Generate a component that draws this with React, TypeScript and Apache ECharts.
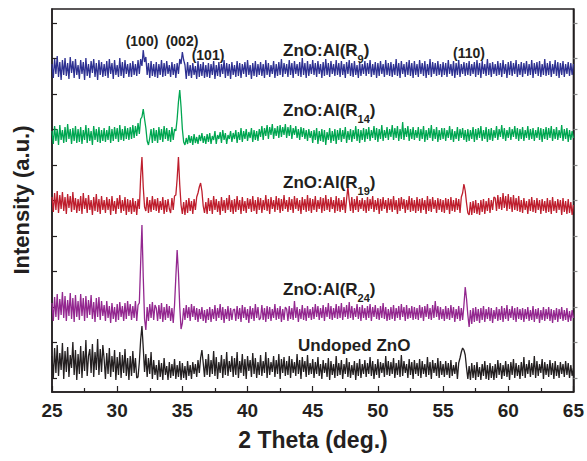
import React, { useEffect, useRef } from "react";
import * as echarts from "echarts";

// 2θ sampling grid (deg), 25.0 .. 65.0 step 0.1
const twoTheta: number[] = Array.from({ length: 401 }, (_, i) => Math.round((25 + i * 0.1) * 10) / 10);

const xTicks = [25, 30, 35, 40, 45, 50, 55, 60, 65];
const seriesNames = ["ZnO:Al(R9)", "ZnO:Al(R14)", "ZnO:Al(R19)", "ZnO:Al(R24)", "Undoped ZnO"];
const stackOffsets = [312, 247, 177, 67, 12];
const yTickValues = [14, 49.5, 85, 120.5, 156, 191.5, 227, 262.5, 298, 333.5, 369];

const intensityR9 = [
  16,2,21,6,24,3,18,0,20,5,22,4,17,1,23,7,19,2,21,5,
  15,1,20,6,18,0,22,4,16,2,19,7,21,3,17,0,20,5,18,3,
  16,4,19,2,21,6,17,1,20,5,15,3,22,4,18,2,20,6,16,3,
  17,3,19,5,16,4,20,6,21,14,30,18,23,5,17,2,19,4,16,3,
  18,2,16,5,20,3,17,4,19,6,15,3,18,5,16,2,17,6,21,16,
  28,20,15,1,18,4,15,2,17,5,14,1,19,3,16,4,18,2,15,3,
  17,2,16,5,19,1,15,4,18,3,16,6,20,2,17,4,16,1,18,5,
  15,3,19,4,17,2,16,6,18,3,20,5,15,1,17,4,19,3,16,5,
  18,4,16,2,20,5,17,3,15,6,19,2,16,4,18,5,21,3,17,6,
  16,3,20,5,17,2,19,6,16,4,18,3,22,5,17,2,19,4,16,6,
  20,5,17,3,19,6,16,2,18,4,21,5,17,3,19,6,16,4,20,5,
  17,3,19,5,16,2,18,6,20,4,17,3,19,5,15,2,18,4,16,6,
  19,4,17,6,20,3,16,5,18,2,17,4,19,6,16,3,20,5,17,4,
  18,3,16,5,21,4,17,2,19,6,16,3,18,5,20,4,17,2,19,5,
  16,3,20,6,17,4,19,2,16,5,21,3,18,6,17,4,19,5,16,3,
  18,5,17,3,20,6,16,4,19,2,17,5,20,3,16,6,18,4,17,5,
  19,4,16,6,18,3,20,5,17,2,19,6,16,4,21,5,17,3,18,6,
  16,4,19,5,17,3,20,6,16,2,18,5,19,4,17,6,20,3,16,5,
  18,3,17,6,19,4,16,5,20,2,17,6,18,4,19,3,16,5,21,4,
  17,5,19,3,16,6,20,4,18,2,17,5,19,3,16,6,18,4,17,5,
  16,
];

const intensityR14 = [
  14,1,19,4,16,0,20,5,15,2,18,3,21,6,16,1,17,4,19,2,
  16,3,18,1,15,5,20,2,17,4,14,0,19,5,16,3,18,2,15,4,
  17,3,15,5,19,2,16,4,18,6,17,3,20,5,16,4,19,6,17,5,
  18,6,20,7,19,9,22,11,26,28,36,26,17,4,0,7,16,2,17,4,
  15,2,18,5,16,3,19,6,17,4,15,3,18,5,16,14,26,43,55,38,
  16,3,0,7,1,10,2,9,0,11,2,8,1,10,4,12,2,9,1,11,
  3,12,1,9,5,14,1,10,6,13,2,15,5,12,1,10,6,14,3,12,
  6,15,2,13,5,17,3,14,6,16,4,13,7,17,3,15,5,14,4,16,
  8,19,5,17,9,20,6,18,10,21,6,17,9,19,7,20,8,18,10,21,
  7,18,9,20,6,17,10,19,7,16,5,18,8,17,6,15,4,16,7,14,
  2,15,5,17,1,14,4,16,3,15,0,13,5,17,2,14,4,16,1,15,
  5,17,3,15,6,18,2,14,5,16,3,15,6,19,4,16,2,15,5,17,
  3,16,6,18,4,15,7,19,5,17,3,16,6,20,4,15,7,18,5,16,
  8,20,5,17,7,19,4,16,6,23,5,17,8,19,4,16,6,18,5,15,
  7,18,4,16,6,19,3,15,5,17,7,20,4,16,6,18,3,15,5,17,
  6,17,4,15,7,19,5,16,3,14,6,18,4,16,7,17,5,15,3,16,
  4,15,6,18,3,16,5,17,7,19,4,15,6,18,3,16,5,17,4,15,
  7,19,5,16,8,20,6,17,4,15,7,18,5,16,8,19,6,17,4,16,
  6,18,4,15,7,19,5,16,6,17,4,15,7,18,5,17,3,16,6,18,
  5,17,7,19,4,16,6,18,5,15,7,20,4,16,6,17,3,15,5,14,
  7,
];

const intensityR19 = [
  18,3,22,5,24,2,20,6,23,4,18,1,21,7,19,3,23,5,17,2,
  16,4,19,1,22,6,17,2,20,5,15,0,18,4,21,3,16,1,19,5,
  15,2,18,5,16,0,19,4,14,1,17,6,20,2,15,4,18,0,16,3,
  15,1,17,3,14,0,16,6,38,58,28,8,4,18,2,15,3,19,5,16,
  4,17,2,14,5,18,1,15,3,16,6,2,17,5,19,20,36,58,30,10,
  1,13,0,15,2,17,4,14,1,16,5,18,22,28,32,24,9,2,13,1,
  17,4,15,1,19,5,16,3,14,0,18,4,15,2,17,5,20,3,15,1,
  16,3,19,5,15,1,18,4,14,2,17,6,16,3,19,4,15,1,18,5,
  17,2,15,5,20,4,16,1,18,6,15,3,19,5,17,2,16,4,20,6,
  15,3,18,5,16,2,19,6,17,4,15,1,18,5,16,3,20,4,17,2,
  16,5,19,3,15,6,18,2,17,4,20,5,16,3,18,6,15,2,19,4,
  17,3,15,5,18,2,16,28,15,4,18,2,16,5,19,3,15,6,17,4,
  15,2,18,4,16,6,19,3,15,5,17,1,16,4,18,6,15,2,17,5,
  16,3,19,5,15,1,17,4,18,6,16,2,15,5,19,3,17,4,15,2,
  18,4,16,2,17,5,15,1,19,4,16,3,18,6,15,2,17,5,16,3,
  15,2,17,5,16,1,18,4,15,3,17,5,16,2,18,22,31,24,12,2,
  0,13,0,14,2,15,1,12,0,15,3,16,1,14,4,17,2,15,5,18,
  17,4,20,6,18,5,22,7,19,4,21,6,18,3,20,5,17,4,19,3,
  15,2,17,5,14,1,16,4,18,3,15,2,17,5,15,1,16,4,14,2,
  17,3,15,1,18,4,14,2,16,5,15,0,17,3,14,1,16,2,13,0,
  10,
];

const intensityR24 = [
  22,4,28,8,31,5,26,10,33,7,29,4,25,9,32,6,27,3,30,8,
  24,5,31,9,27,4,29,7,25,10,30,6,23,3,27,8,28,5,24,9,
  20,4,24,7,19,2,22,6,18,3,21,5,23,8,19,4,22,6,24,9,
  21,5,19,7,24,4,20,22,62,100,48,6,-5,18,4,21,7,23,5,20,
  17,4,20,6,22,3,18,5,21,7,19,4,17,2,20,48,75,52,18,-4,
  2,17,5,20,7,18,4,21,8,19,5,17,3,16,6,18,4,15,2,16,
  5,18,3,16,6,20,4,17,7,21,5,18,2,16,6,19,4,17,5,15,
  16,4,19,6,17,3,20,7,18,5,16,2,19,6,17,4,21,7,18,5,
  7,20,5,17,3,19,6,18,4,16,7,21,5,17,6,19,3,16,5,18,
  16,4,19,6,17,5,24,7,18,3,16,6,20,5,17,4,19,7,16,5,
  18,6,21,8,19,5,17,7,20,4,18,8,22,6,19,5,17,7,21,6,
  19,7,22,5,18,8,20,6,23,7,19,5,17,8,21,6,18,4,20,7,
  17,5,19,7,21,4,18,8,20,6,17,5,19,7,22,6,18,4,16,5,
  18,6,20,4,17,7,19,5,21,8,18,4,20,6,17,7,19,5,18,6,
  17,5,20,7,18,4,19,8,21,6,17,5,20,7,24,8,19,5,18,6,
  16,4,19,6,17,5,20,7,18,3,16,6,19,4,17,5,20,38,26,10,
  -2,15,1,17,3,18,4,16,2,17,5,19,3,16,6,18,4,17,2,15,
  6,18,4,16,5,19,3,17,6,20,4,16,7,19,5,17,3,18,6,16,
  5,17,3,16,6,18,4,15,5,19,3,16,6,17,2,15,5,18,4,16,
  6,18,4,16,2,15,5,17,3,16,6,18,4,15,5,17,3,14,4,15,
  7,
];

const intensityUndoped = [
  24,2,32,7,35,4,27,10,37,1,29,8,33,3,25,12,38,5,30,0,
  26,6,34,2,29,9,40,4,24,31,7,36,3,28,10,41,5,31,8,35,
  21,1,27,6,32,3,24,8,30,0,23,5,28,2,25,7,31,4,22,0,
  24,4,29,7,22,2,3,18,40,54,32,8,26,3,22,6,28,1,20,5,
  15,0,20,3,17,0,22,5,14,0,18,2,16,4,21,1,15,3,19,0,
  17,2,14,0,19,4,15,1,18,6,16,3,20,7,22,30,17,3,21,5,
  26,3,20,6,29,4,23,1,18,7,25,2,21,5,28,4,19,8,24,3,
  22,5,28,2,19,7,26,4,21,1,24,9,20,3,27,6,22,2,18,5,
  25,4,19,7,28,2,22,5,18,8,24,3,20,6,26,1,21,7,23,4,
  19,5,24,2,21,7,18,4,26,6,20,1,23,8,19,3,25,5,17,6,
  21,2,18,6,23,4,16,1,20,7,17,3,22,0,19,5,16,2,24,4,
  17,5,20,1,16,6,22,3,18,2,15,5,19,0,17,4,21,2,16,6,
  20,3,17,6,23,4,19,1,16,5,21,2,18,7,17,3,24,5,19,4,
  18,6,22,2,17,5,20,3,25,4,19,7,16,2,21,5,18,1,20,6,
  17,4,21,2,19,6,16,3,23,5,18,1,20,7,17,4,22,2,19,5,
  16,3,19,5,17,2,20,4,15,6,18,1,17,22,28,32,30,25,12,1,
  14,0,17,2,15,0,18,3,13,0,16,4,19,1,15,0,17,2,14,0,
  16,2,20,5,17,1,15,4,19,3,16,0,18,5,21,2,17,4,15,1,
  18,4,23,2,16,6,20,3,17,5,24,2,19,4,16,7,21,1,18,5,
  16,3,20,5,17,1,19,4,15,2,18,6,16,3,19,5,17,2,15,4,
  12,
];

const allIntensities = [intensityR9, intensityR14, intensityR19, intensityR24, intensityUndoped];
const seriesColors = ["#2e3192", "#00a651", "#be1e2d", "#93278f", "#231f20"];

const FONT = "Liberation Sans, Arial, sans-serif";

export default function App() {
  const ref = useRef<HTMLDivElement>(null);
  useEffect(() => {
    if (!ref.current) return;
    const chart = echarts.init(ref.current, null, { renderer: "svg" });

    const series = allIntensities.map((arr, k) => ({
      name: seriesNames[k],
      type: "line",
      showSymbol: false,
      symbol: "none",
      lineStyle: { width: 1.3, color: seriesColors[k] },
      itemStyle: { color: seriesColors[k] },
      data: arr.map((v, i) => [twoTheta[i], v + stackOffsets[k]]),
      z: 10 - k,
    }));

    const label = (text: string, x: number, y: number, size = 14) => ({
      type: "text",
      x,
      y,
      z: 100,
      style: {
        text,
        fill: "#231f20",
        fontFamily: FONT,
        fontWeight: "bold",
        fontSize: size,
        align: "center",
        verticalAlign: "middle",
      },
    });

    const subLabel = (main: string, sub: string, x: number, y: number) => ({
      type: "text",
      x,
      y,
      z: 100,
      style: {
        text: `{m|${main}}{s|${sub}}{m|)}`,
        fill: "#231f20",
        fontFamily: FONT,
        fontWeight: "bold",
        align: "left",
        verticalAlign: "middle",
        rich: {
          m: { fontSize: 17, fontWeight: "bold", fontFamily: FONT, fill: "#231f20", lineHeight: 28, verticalAlign: "middle" },
          s: { fontSize: 11, fontWeight: "bold", fontFamily: FONT, fill: "#231f20", lineHeight: 11, verticalAlign: "bottom" },
        },
      },
    });

    chart.setOption({
      animation: false,
      backgroundColor: "#ffffff",
      grid: {
        left: 52,
        right: 13,
        top: 9,
        bottom: 69,
        show: true,
        borderColor: "#231f20",
        borderWidth: 1.5,
        backgroundColor: "transparent",
      },
      xAxis: {
        type: "value",
        min: 25,
        max: 65,
        interval: 5,
        axisLine: { show: true, lineStyle: { color: "#231f20", width: 1.5 } },
        axisTick: { show: true, inside: true, length: 6, lineStyle: { color: "#231f20", width: 1.2 } },
        minorTick: { show: true, splitNumber: 2, length: 4, lineStyle: { color: "#231f20", width: 1.2 } },
        splitLine: { show: false },
        axisLabel: {
          margin: 9,
          color: "#231f20",
          fontFamily: FONT,
          fontWeight: "bold",
          fontSize: 19,
          customValues: xTicks,
        },
      },
      yAxis: [
        {
          type: "value",
          min: 0,
          max: 383,
          position: "left",
          axisLine: { show: true, lineStyle: { color: "#231f20", width: 1.5 } },
          axisTick: { show: true, inside: true, length: 5, customValues: yTickValues, lineStyle: { color: "#231f20", width: 1.2 } },
          axisLabel: { show: false },
          splitLine: { show: false },
        },
        {
          type: "value",
          min: 0,
          max: 383,
          position: "right",
          axisLine: { show: true, lineStyle: { color: "#231f20", width: 1.5 } },
          axisTick: { show: true, inside: false, length: 4, customValues: yTickValues, lineStyle: { color: "#888888", width: 1.2 } },
          axisLabel: { show: false },
          splitLine: { show: false },
        },
      ],
      series,
      graphic: [
        label("(100)", 142, 41),
        label("(002)", 182, 41),
        label("(101)", 208, 55),
        label("(110)", 469, 53),
        subLabel("ZnO:Al(R", "9", 283, 50),
        subLabel("ZnO:Al(R", "14", 283, 110),
        subLabel("ZnO:Al(R", "19", 283, 182),
        subLabel("ZnO:Al(R", "24", 283, 289),
        {
          type: "text",
          x: 298,
          y: 345,
          z: 100,
          style: {
            text: "Undoped ZnO",
            fill: "#231f20",
            fontFamily: FONT,
            fontWeight: "bold",
            fontSize: 17,
            align: "left",
            verticalAlign: "middle",
          },
        },
        {
          type: "text",
          x: 313,
          y: 440,
          style: {
            text: "2 Theta (deg.)",
            fill: "#231f20",
            fontFamily: FONT,
            fontWeight: "bold",
            fontSize: 23,
            align: "center",
            verticalAlign: "middle",
          },
        },
        {
          type: "text",
          x: 21,
          y: 200,
          rotation: Math.PI / 2,
          style: {
            text: "Intensity (a.u.)",
            fill: "#231f20",
            fontFamily: FONT,
            fontWeight: "bold",
            fontSize: 22,
            align: "center",
            verticalAlign: "middle",
          },
        },
      ],
    });

    return () => chart.dispose();
  }, []);

  return (
    <div
      ref={ref}
      style={{ position: "fixed", left: 0, top: 0, width: 587, height: 461, background: "#fff" }}
    />
  );
}
